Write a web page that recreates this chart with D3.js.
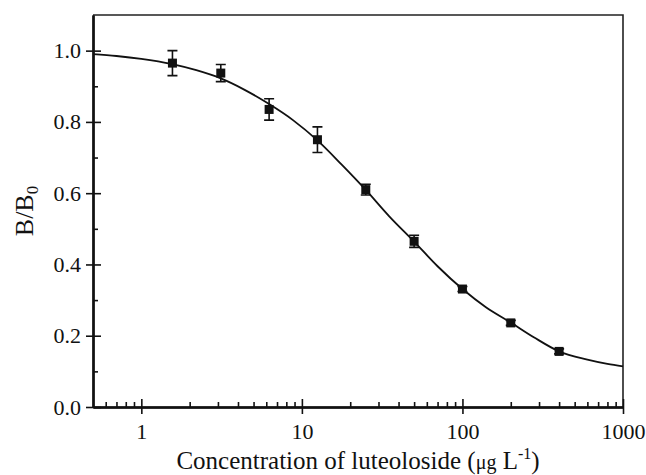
<!DOCTYPE html>
<html>
<head>
<meta charset="utf-8">
<script src="https://cdn.jsdelivr.net/npm/d3@7"></script>
<style>
	body { margin: 0; background: #fff; }
	svg { display: block; }
	text { font-family: "Liberation Serif", "Times New Roman", serif; fill: #111; }
</style>
</head>
<body>
<div id="chart"></div>
<script>
"use strict";

// measured points (concentration, B/B0, error)
const conc = [1.5625, 3.125, 6.25, 12.5, 25, 50, 100, 200, 400];
const ratio = [0.965, 0.937, 0.835, 0.750, 0.610, 0.465, 0.331, 0.236, 0.156];
const err = [0.035, 0.024, 0.030, 0.036, 0.015, 0.017, 0.007, 0.007, 0.007];

// fitted curve
const curveX = [0.5, 0.7, 1.0, 1.56, 2.2, 3.125, 4.4, 6.25, 8.8, 12.5, 17.7, 25, 35, 50, 70, 100, 140, 200, 280, 400, 600, 800, 1000];
const curveY = [0.990, 0.985, 0.977, 0.962, 0.945, 0.922, 0.890, 0.850, 0.805, 0.748, 0.680, 0.609, 0.535, 0.464, 0.395, 0.331, 0.280, 0.237, 0.195, 0.156, 0.133, 0.121, 0.114];

const xMajor = [1, 10, 100, 1000];
const xMinor = [0.6, 0.7, 0.8, 0.9, 2, 3, 4, 5, 6, 7, 8, 9, 20, 30, 40, 50, 60, 70, 80, 90, 200, 300, 400, 500, 600, 700, 800, 900];
const yMajor = [0, 0.2, 0.4, 0.6, 0.8, 1.0];
const yMinor = [0.1, 0.3, 0.5, 0.7, 0.9];

const W = 646, H = 475;
const m = { left: 93, top: 15, right: 23, bottom: 68 };
const iw = W - m.left - m.right;
const ih = H - m.top - m.bottom;
const serif = "'Liberation Serif', 'Times New Roman', serif";

const x = d3.scaleLog().domain([0.5, 1000]).range([0, iw]);
const y = d3.scaleLinear().domain([0, 1.1]).range([ih, 0]);

const svg = d3.select("#chart").append("svg")
	.attr("width", W)
	.attr("height", H);

const g = svg.append("g").attr("transform", `translate(${m.left},${m.top})`);

// frame top / right
g.append("path")
	.attr("d", `M0,0H${iw}V${ih}`)
	.attr("fill", "none")
	.attr("stroke", "#222")
	.attr("stroke-width", 1.6);

const styleAxis = (sel) => {
	sel.style("font-family", serif).style("font-size", "22px");
	sel.select(".domain").attr("stroke", "#111").attr("stroke-width", 2);
	sel.selectAll(".tick line").attr("stroke", "#111").attr("stroke-width", 1.6);
	sel.selectAll(".tick text")
		.style("font-family", serif)
		.style("font-size", "22px")
		.attr("fill", "#111");
};

// x axis: labels + outer ticks
g.append("g").attr("transform", `translate(0,${ih})`)
	.call(d3.axisBottom(x).tickValues(xMajor).tickFormat(d3.format("d")).tickSizeInner(7).tickSizeOuter(0).tickPadding(9))
	.call(styleAxis);
// inner major + minor ticks
g.append("g").attr("transform", `translate(0,${ih})`)
	.call(d3.axisBottom(x).tickValues(xMajor).tickFormat("").tickSizeInner(-8).tickSizeOuter(0))
	.call(styleAxis);
g.append("g").attr("transform", `translate(0,${ih})`)
	.call(d3.axisBottom(x).tickValues(xMinor).tickFormat("").tickSizeInner(-5).tickSizeOuter(0))
	.call(styleAxis);

// y axis
g.append("g")
	.call(d3.axisLeft(y).tickValues(yMajor).tickFormat(d3.format(".1f")).tickSizeInner(7).tickSizeOuter(0).tickPadding(5))
	.call(styleAxis);
g.append("g")
	.call(d3.axisLeft(y).tickValues(yMajor).tickFormat("").tickSizeInner(-8).tickSizeOuter(0))
	.call(styleAxis);
g.append("g")
	.call(d3.axisLeft(y).tickValues(yMinor).tickFormat("").tickSizeInner(-5).tickSizeOuter(0))
	.call(styleAxis);

// fitted curve
const line = d3.line()
	.x((d, i) => x(curveX[i]))
	.y((d) => y(d))
	.curve(d3.curveMonotoneX);

g.append("path")
	.datum(curveY)
	.attr("d", line)
	.attr("fill", "none")
	.attr("stroke", "#111")
	.attr("stroke-width", 1.8);

// error bars
const cap = 5;
const bars = g.append("g").selectAll("g")
	.data(conc)
	.enter()
	.append("g");

bars.append("path")
	.attr("d", (d, i) => {
		const cx = x(d), t = y(ratio[i] + err[i]), b = y(ratio[i] - err[i]);
		return `M${cx},${t}V${b}M${cx - cap},${t}H${cx + cap}M${cx - cap},${b}H${cx + cap}`;
	})
	.attr("fill", "none")
	.attr("stroke", "#111")
	.attr("stroke-width", 1.6);

// markers
const sq = 9;
bars.append("rect")
	.attr("x", (d) => x(d) - sq / 2)
	.attr("y", (d, i) => y(ratio[i]) - sq / 2)
	.attr("width", sq)
	.attr("height", sq)
	.attr("fill", "#111");

// axis titles
const xt = svg.append("text")
	.attr("x", m.left + iw / 2)
	.attr("y", 469)
	.attr("text-anchor", "middle")
	.style("font-family", serif)
	.style("font-size", "25px");
xt.append("tspan").text("Concentration of luteoloside (");
xt.append("tspan").style("font-size", "20px").text("μg");
xt.append("tspan").text(" L");
xt.append("tspan").style("font-size", "16px").attr("dy", -10).text("-1");
xt.append("tspan").attr("dy", 10).text(")");

const yt = svg.append("text")
	.attr("transform", `translate(33,${m.top + ih / 2}) rotate(-90)`)
	.attr("text-anchor", "middle")
	.style("font-family", serif)
	.style("font-size", "26px");
yt.append("tspan").text("B/B");
yt.append("tspan").style("font-size", "17px").attr("dy", 5).text("0");
</script>
</body>
</html>
